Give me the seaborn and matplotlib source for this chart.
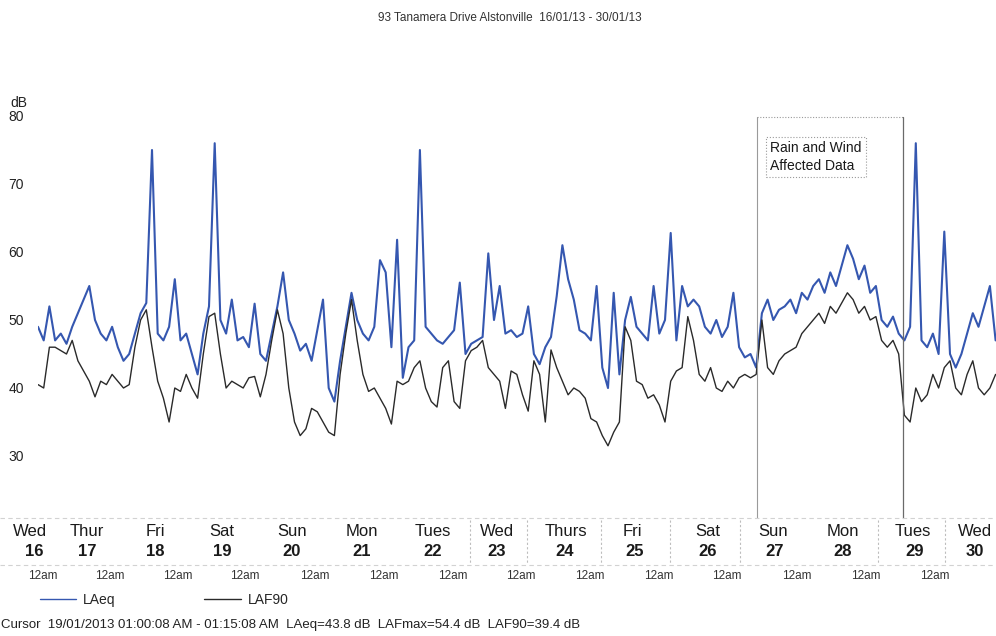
import numpy as np
import pandas as pd
import matplotlib
matplotlib.use("Agg")
import matplotlib.pyplot as plt
import seaborn as sns

# ---------------- data (2-hour steps from Wed 16/01 to Wed 30/01) ----------------
laeq = [49, 47, 52, 47, 48, 46.5, 49, 51, 53, 55,
        50, 48, 47, 49, 46, 44, 45, 48, 51, 52.5,
        75, 48, 47, 49, 56, 47, 48, 45, 42, 48,
        52, 76, 50, 48, 53, 47, 47.5, 46, 52.4, 45,
        44, 48, 52, 57, 50, 48, 45.5, 46.5, 44, 48.5,
        53, 40, 38, 44, 49, 54, 50, 48, 47, 49,
        58.8, 57, 46, 61.8, 41.5, 46, 47, 75, 49, 48,
        47, 46.5, 47.5, 48.5, 55.5, 45, 46.5, 47, 47.5, 59.8,
        50, 55, 48, 48.5, 47.5, 48, 52, 45, 43.5, 46,
        47.5, 53.5, 61, 56, 53, 48.5, 48, 47, 55, 43,
        40, 54, 42, 50, 53.4, 49, 48, 47, 55, 48,
        50, 62.8, 47, 55, 52, 53, 52, 49, 48, 50,
        47.5, 49, 54, 46, 44.5, 45, 43, 51, 53, 50,
        51.5, 52, 53, 51, 54, 53, 55, 56, 54, 57,
        55, 58, 61, 59, 56, 58, 54, 55, 50, 49,
        50.5, 48, 47, 49, 76, 47, 46, 48, 45, 63,
        45, 43, 45, 48, 51, 49, 52, 55, 47]

laf90 = [40.5, 40, 46, 46, 45.5, 45, 47, 44, 42.5, 41,
         38.7, 41, 40.5, 42, 41, 40, 40.5, 46, 50, 51.5,
         46, 41, 38.5, 35, 40, 39.5, 42, 40, 38.5, 45,
         50.5, 51, 45, 40, 41, 40.5, 40, 41.5, 41.7, 38.7,
         42, 47, 51.5, 48, 40, 35, 33, 34, 37, 36.5,
         35, 33.5, 33, 42, 48, 53, 47, 42, 39.5, 40,
         38.5, 37, 34.7, 41, 40.5, 41, 43, 44, 40, 38,
         37.2, 43, 44, 38, 37, 44, 45.5, 46, 47, 43,
         42, 41, 37, 42.5, 42, 39, 36.6, 44, 42, 35,
         45.6, 43, 41, 39, 40, 39.5, 38.5, 35.5, 35, 33,
         31.5, 33.5, 35, 49, 47, 41, 40.5, 38.5, 39, 37.5,
         35, 41, 42.5, 43, 50.5, 47, 42, 41, 43, 40,
         39.5, 41, 40, 41.5, 42, 41.5, 42, 50, 43, 42,
         44, 45, 45.5, 46, 48, 49, 50, 51, 49.5, 52,
         51, 52.5, 54, 53, 51, 52, 50, 50.5, 47, 46,
         47, 45, 36, 35, 40, 38, 39, 42, 40, 43,
         44, 40, 39, 42, 44, 40, 39, 40, 42]

series_names = ["LAeq", "LAF90"]
series_colors = ["#3557b0", "#2a2a2a"]

day_names = ["Wed", "Thur", "Fri", "Sat", "Sun", "Mon", "Tues", "Wed",
             "Thurs", "Fri", "Sat", "Sun", "Mon", "Tues", "Wed"]
day_nums = ["16", "17", "18", "19", "20", "21", "22", "23",
            "24", "25", "26", "27", "28", "29", "30"]
y_ticks = [30, 40, 50, 60, 70, 80]

title = "93 Tanamera Drive Alstonville  16/01/13 - 30/01/13"
cursor_text = ("Cursor  19/01/2013 01:00:08 AM - 01:15:08 AM  LAeq=43.8 dB  "
               "LAFmax=54.4 dB  LAF90=39.4 dB")

# ---------------- figure ----------------
sns.set_theme(style="white")
plt.rcParams["font.family"] = ["Liberation Sans", "DejaVu Sans"]

W, H = 996, 636
fig = plt.figure(figsize=(W / 100, H / 100), dpi=100)
fig.patch.set_facecolor("white")

def fx(px):
    return px / W

def fy(py):
    return 1 - py / H

ax_left, ax_right, ax_top, ax_bot = 38, 996, 110, 515
ax = fig.add_axes([fx(ax_left), fy(ax_bot), fx(ax_right - ax_left), (ax_bot - ax_top) / H])
ax.set_facecolor("white")

t = np.arange(len(laeq))
df = pd.DataFrame({
    "t": np.concatenate([t, t]),
    "dB": np.concatenate([laeq, laf90]),
    "series": [series_names[0]] * len(laeq) + [series_names[1]] * len(laf90),
})

sns.lineplot(data=df, x="t", y="dB", hue="series", hue_order=series_names,
             palette=dict(zip(series_names, series_colors)), ax=ax,
             linewidth=1.1, legend=True)
for ln, lw in zip(ax.lines[:2], [1.5, 1.0]):
    ln.set_linewidth(lw)

# y scale: 50 dB at pixel 320, 6.8 px per dB
def db_at(py):
    return 50 - (py - 320) / 6.8

ax.set_ylim(db_at(ax_bot), db_at(ax_top))
ax.set_xlim(0, (ax_right - ax_left) / 5.7)
ax.set_yticks(y_ticks)
ax.set_yticklabels([str(v) for v in y_ticks], fontsize=10, color="#222222")
ax.tick_params(axis="y", length=0, pad=10)
ax.set_xticks([])
ax.set_xlabel("")
ax.set_ylabel("")
for s in ax.spines.values():
    s.set_visible(False)
ax.grid(False)

def dx(px):
    return (px - ax_left) / 5.7

# Rain and wind box
grey = "#9a9a9a"
xl, xr = dx(757), dx(903)
ytop = db_at(117)
ybot = db_at(518)
ax.plot([xl, xr], [ytop, ytop], color=grey, lw=0.8, ls=(0, (1, 1.5)), clip_on=False)
ax.plot([xl, xl], [ytop, ybot], color=grey, lw=0.8, clip_on=False)
ax.plot([xr, xr], [ytop, ybot], color="#6a6a6a", lw=0.9, clip_on=False)
ax.text(dx(770), db_at(157), "Rain and Wind\nAffected Data", fontsize=10,
        color="#1a1a1a", va="center", ha="left", linespacing=1.35,
        bbox=dict(boxstyle="square,pad=0.3", fc="white", ec=grey, lw=0.8, ls=":"))

# Legend
sns.move_legend(ax, "center left", bbox_to_anchor=((40 - ax_left) / (ax_right - ax_left),
                                                  (ax_bot - 600) / (ax_bot - ax_top)),
                ncol=2, frameon=False, title=None, fontsize=10, handlelength=2.6,
                handletextpad=0.5, columnspacing=6.4, borderaxespad=0, borderpad=0)
leg = ax.get_legend()
for h in leg.get_lines():
    h.set_linewidth(1.0)

# Title
fig.text(fx(510), fy(18), title, fontsize=8.5, color="#333333", ha="center", va="center")
# dB unit
fig.text(fx(10), fy(103), "dB", fontsize=10, color="#222222", ha="left", va="center")

# Day labels
name_x = [30, 87, 155, 222, 292, 362, 433, 497, 566, 632, 708, 773, 843, 913, 975]
num_x = [34, 87, 155, 222, 292, 362, 433, 497, 565, 635, 708, 775, 843, 915, 975]
am_x = [43, 110, 178, 245, 315, 384, 453, 521, 590, 659, 727, 797, 866, 935]
for n, x in zip(day_names, name_x):
    fig.text(fx(x), fy(532), n, fontsize=12, color="#1a1a1a", ha="center", va="center")
for n, x in zip(day_nums, num_x):
    fig.text(fx(x), fy(552), n, fontsize=12, color="#1a1a1a", ha="center", va="center",
             fontweight="bold")
for x in am_x:
    fig.text(fx(x), fy(576), "12am", fontsize=8.5, color="#333333", ha="center", va="center")

# faint separators
light = "#d2d2d2"
fig.add_artist(plt.Line2D([0, 1], [fy(518), fy(518)], color=light, lw=0.8, ls=(0, (4, 3))))
fig.add_artist(plt.Line2D([0, 1], [fy(565), fy(565)], color=light, lw=0.8, ls=(0, (4, 3))))
for x in [470, 527, 601, 670, 740, 878, 945]:
    fig.add_artist(plt.Line2D([fx(x), fx(x)], [fy(520), fy(563)], color="#bdbdbd",
                              lw=0.8, ls=(0, (2, 2))))

# Cursor line
fig.text(fx(1), fy(625), cursor_text, fontsize=9.5, color="#222222", ha="left", va="center")

fig.savefig("out.png", dpi=100, facecolor="white")
